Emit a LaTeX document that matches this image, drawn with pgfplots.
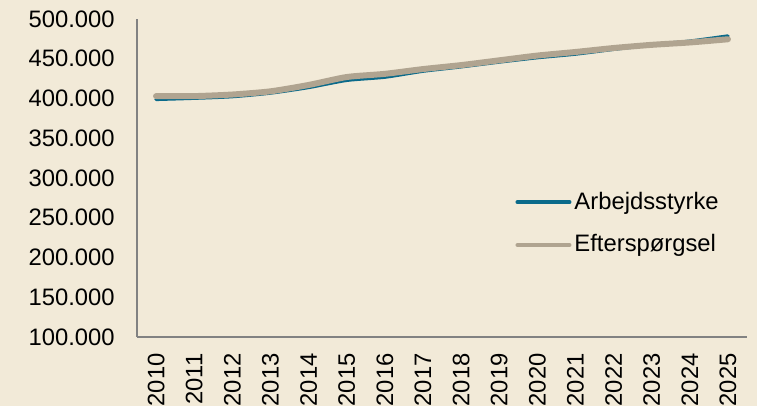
\documentclass[border=0pt]{standalone}
\usepackage{pgfplots}
\pgfplotsset{compat=1.18}
\usepackage{fontspec}
\setmainfont{Liberation Sans}
\definecolor{bg}{RGB}{242,234,216}
\definecolor{blueline}{RGB}{10,106,138}
\definecolor{grayline}{RGB}{176,164,144}
\definecolor{axisgray}{RGB}{130,130,130}
\begin{document}
\fontsize{11.9pt}{14pt}\selectfont
\begin{tikzpicture}
\fill[bg] (-68.5pt,-34.5pt) rectangle (310pt,168.5pt);
\useasboundingbox (-68.5pt,-34.5pt) rectangle (310pt,168.5pt);
\begin{axis}[
  at={(0pt,0pt)}, anchor=south west,
  scale only axis,
  width=305pt, height=159pt,
  xmin=-0.5, xmax=15.5,
  ymin=100000, ymax=500000,
  scaled y ticks=false,
  axis x line*=bottom, axis y line*=left,
  axis line style={draw=axisgray, line width=0.8pt, -},
  xtick={0,...,15},
  xticklabels={2010,2011,2012,2013,2014,2015,2016,2017,2018,2019,2020,2021,2022,2023,2024,2025},
  ytick={100000,150000,200000,250000,300000,350000,400000,450000,500000},
  yticklabels={100.000,150.000,200.000,250.000,300.000,350.000,400.000,450.000,500.000},
  major tick length=0pt,
  tick style={draw=none},
  xticklabel style={rotate=90, anchor=east, inner sep=0pt, font=\fontsize{11.9pt}{14pt}\selectfont},
  yticklabel style={anchor=east, inner sep=0pt, font=\fontsize{11.9pt}{14pt}\selectfont},
  xticklabel shift=8pt,
  yticklabel shift=11pt,
  legend cell align=left,
  legend style={draw=none, fill=none, at={(0.61,0.48)}, anchor=north west,
    font=\fontsize{11.9pt}{14pt}\selectfont, row sep=8pt,
    nodes={inner sep=1.5pt}},
  legend image code/.code={\draw[#1, line width=2pt, line cap=round] (0pt,0pt) -- (26pt,0pt);},
]
\addplot[blueline, line width=1.8pt, line cap=round, smooth, tension=0.4] coordinates {
(0,399000) (1,400500) (2,402500) (3,407000) (4,414000) (5,423000) (6,427000) (7,434500)
(8,440000) (9,446000) (10,451500) (11,456000) (12,462000) (13,467500) (14,472000) (15,478500)};
\addlegendentry{Arbejdsstyrke}
\addplot[grayline, line width=3pt, line cap=round, smooth, tension=0.4] coordinates {
(0,403000) (1,403000) (2,405000) (3,409000) (4,417000) (5,427000) (6,431000) (7,437000)
(8,442000) (9,448000) (10,454000) (11,458500) (12,463500) (13,467500) (14,470500) (15,474500)};
\addlegendentry{Efterspørgsel}
\end{axis}
\end{tikzpicture}
\end{document}
